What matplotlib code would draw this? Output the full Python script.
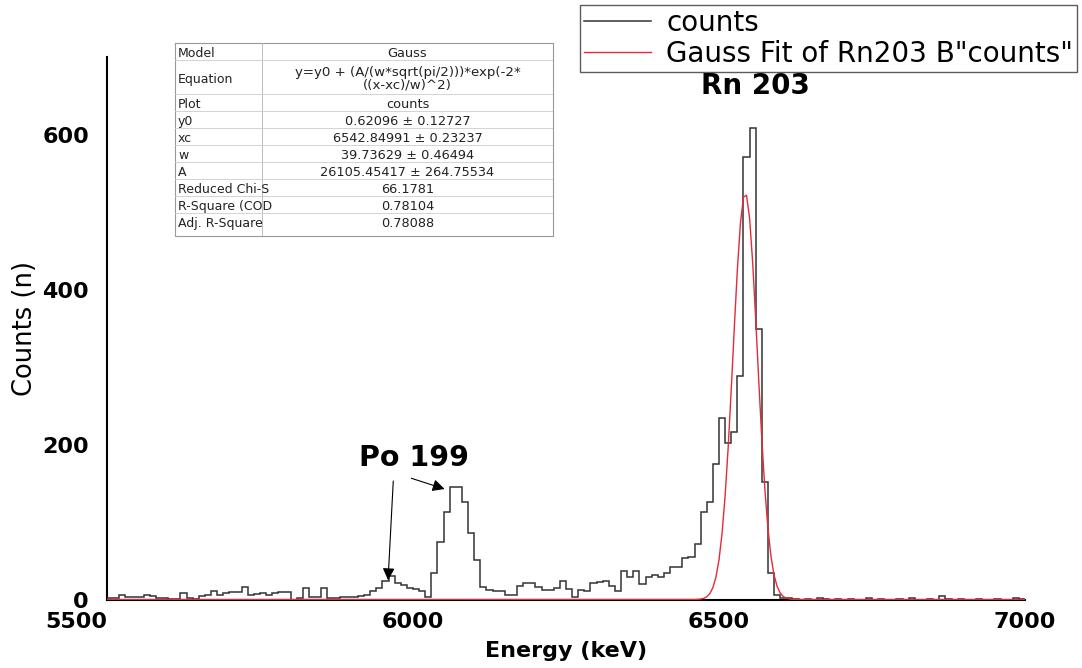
import numpy as np
import matplotlib
matplotlib.use('Agg')
import matplotlib.pyplot as plt

plt.rcParams['font.family'] = ['DejaVu Sans']

# histogram: 10 keV bins from 5500 to 7000 keV
bin_start = 5500
bin_width = 10
counts = [2, 2, 6, 4, 4, 4, 6, 5, 3, 3,
          1, 1, 9, 3, 1, 5, 7, 12, 7, 9,
          10, 10, 17, 6, 8, 9, 6, 9, 10, 10,
          0, 2, 15, 4, 4, 15, 3, 3, 4, 4,
          4, 5, 7, 11, 16, 24, 31, 22, 19, 16,
          14, 11, 4, 35, 75, 114, 146, 146, 126, 86,
          52, 17, 13, 11, 12, 6, 6, 18, 22, 22,
          17, 13, 13, 15, 24, 14, 4, 13, 11, 22,
          23, 24, 18, 11, 38, 30, 37, 21, 30, 32,
          30, 35, 43, 42, 54, 56, 72, 114, 126, 175,
          235, 203, 217, 289, 571, 608, 350, 152, 35, 7,
          3, 2, 1, 0, 1, 0, 2, 1, 0, 1,
          0, 1, 0, 0, 2, 0, 1, 0, 0, 1,
          0, 2, 0, 0, 1, 0, 5, 1, 0, 1,
          0, 0, 1, 0, 0, 1, 0, 0, 2, 1]

# fit parameters (from the fit table)
y0 = 0.62096
xc = 6542.84991
w = 39.73629
A = 26105.45417

table_rows = [
    ('Model', 'Gauss'),
    ('Equation', 'y=y0 + (A/(w*sqrt(pi/2)))*exp(-2*\n((x-xc)/w)^2)'),
    ('Plot', 'counts'),
    ('y0', '0.62096 \u00b1 0.12727'),
    ('xc', '6542.84991 \u00b1 0.23237'),
    ('w', '39.73629 \u00b1 0.46494'),
    ('A', '26105.45417 \u00b1 264.75534'),
    ('Reduced Chi-S', '66.1781'),
    ('R-Square (COD', '0.78104'),
    ('Adj. R-Square', '0.78088'),
]

edges = bin_start + bin_width * np.arange(len(counts) + 1)
xfit = np.linspace(5500, 7000, 301)
yfit = y0 + (A / (w * np.sqrt(np.pi / 2))) * np.exp(-2 * ((xfit - xc) / w) ** 2)

W, H = 1082, 668
fig = plt.figure(figsize=(W / 100, H / 100), dpi=100)
ax = fig.add_axes([107 / W, 68 / H, 918 / W, 543 / H])

h_counts = ax.stairs(counts, edges, color='#333333', lw=1.1, label='counts', zorder=3)
h_fit, = ax.plot(xfit, yfit, color='#e8283a', lw=1.0, label='Gauss Fit of Rn203 B"counts"', zorder=4)

ax.set_xlim(5500, 7000)
ax.set_ylim(0, 700)
ax.set_xticks([5500, 6000, 6500, 7000])
ax.set_yticks([0, 200, 400, 600])
ax.tick_params(length=0, labelsize=16)
ax.tick_params(axis='y', pad=13)
ax.tick_params(axis='x', pad=9)
for lab in ax.get_xticklabels() + ax.get_yticklabels():
    lab.set_fontweight('bold')
ax.get_xticklabels()[0].set_ha('right')

for s in ['top', 'right']:
    ax.spines[s].set_visible(False)
ax.spines['left'].set_linewidth(1.5)
ax.spines['bottom'].set_linewidth(1.5)

ax.set_xlabel('Energy (keV)', fontsize=16, fontweight='bold', labelpad=6)
ax.set_ylabel('Counts (n)', fontsize=18.5)
ax.yaxis.set_label_coords(-0.075, 0.5)

ax.text(6560, 662, 'Rn 203', fontsize=20, fontweight='bold', ha='center', va='center')
ax.text(6002, 183, 'Po 199', fontsize=20.5, fontweight='bold', ha='center', va='center')
ax.annotate('', xy=(5959, 22), xytext=(5968, 157),
            arrowprops=dict(arrowstyle='-|>', color='black', lw=0.8, mutation_scale=18))
ax.annotate('', xy=(6056, 142), xytext=(5993, 158),
            arrowprops=dict(arrowstyle='-|>', color='black', lw=0.8, mutation_scale=18))

# legend, partly running off the right edge
fig.legend(handles=[h_counts, h_fit], loc='lower left',
           bbox_to_anchor=(580 / W, 1 - 72 / H), fontsize=20,
           frameon=True, fancybox=False, edgecolor='#333333',
           handlelength=2.4, handletextpad=0.55, borderpad=0.15,
           labelspacing=0.1, borderaxespad=0)

# fit results table
tx0, ty0, tw, th = 175, 43, 378, 193
tax = fig.add_axes([tx0 / W, 1 - (ty0 + th) / H, tw / W, th / H])
tax.set_xlim(0, tw)
tax.set_ylim(th, 0)
tax.axis('off')
row_h = [17, 34, 17, 17, 17, 17, 17, 17, 17, 17]
col_split = 87
y = 0
tax.plot([0, tw, tw, 0, 0], [0, 0, th, th, 0], color='#999999', lw=0.8, clip_on=False)
tax.plot([col_split, col_split], [0, th], color='#bbbbbb', lw=0.7)
for (name, val), rh in zip(table_rows, row_h):
    if y > 0:
        tax.plot([0, tw], [y, y], color='#cccccc', lw=0.6)
    tax.text(3, y + rh / 2 + 0.5, name, fontsize=9, va='center_baseline', ha='left', color='#222222')
    fs = 9.6 if '\n' in val else 9.3
    tax.text((col_split + tw) / 2, y + rh / 2 + 0.5, val, fontsize=fs, va='center_baseline',
             ha='center', color='#222222', linespacing=0.95)
    y += rh

fig.savefig('out.png', dpi=100)
